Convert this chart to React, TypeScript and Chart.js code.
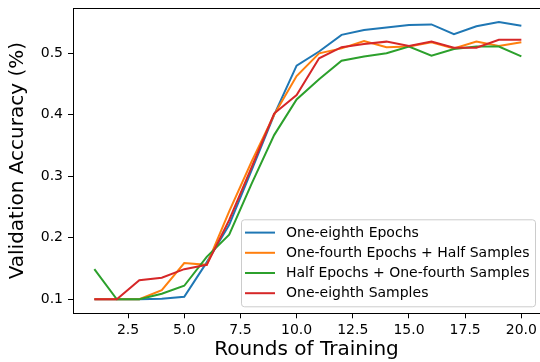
import React, { useEffect, useRef } from 'react';
import { Chart, registerables } from 'chart.js';

Chart.register(...registerables);

const rounds = [1, 2, 3, 4, 5, 6, 7, 8, 9, 10, 11, 12, 13, 14, 15, 16, 17, 18, 19, 20];
const oneEighthEpochs = [0.1, 0.1, 0.1, 0.101, 0.104, 0.16, 0.221, 0.31, 0.4, 0.48, 0.503, 0.53, 0.538, 0.542, 0.546, 0.547, 0.531, 0.544, 0.551, 0.545];
const oneFourthEpochsHalfSamples = [0.1, 0.1, 0.1, 0.115, 0.159, 0.156, 0.243, 0.324, 0.4, 0.463, 0.5, 0.508, 0.52, 0.51, 0.511, 0.518, 0.508, 0.519, 0.512, 0.518];
const halfEpochsOneFourthSamples = [0.149, 0.1, 0.1, 0.109, 0.122, 0.169, 0.205, 0.288, 0.367, 0.425, 0.458, 0.488, 0.495, 0.5, 0.511, 0.496, 0.507, 0.511, 0.511, 0.495];
const oneEighthSamples = [0.1, 0.1, 0.131, 0.135, 0.149, 0.156, 0.229, 0.315, 0.402, 0.432, 0.492, 0.51, 0.515, 0.519, 0.512, 0.519, 0.509, 0.509, 0.522, 0.522];

const seriesLabels = [
  'One-eighth Epochs',
  'One-fourth Epochs + Half Samples',
  'Half Epochs + One-fourth Samples',
  'One-eighth Samples',
];
const seriesColors = ['#1f77b4', '#ff7f0e', '#2ca02c', '#d62728'];
const xTicks = [2.5, 5.0, 7.5, 10.0, 12.5, 15.0, 17.5, 20.0];
const yTicks = [0.1, 0.2, 0.3, 0.4, 0.5];

const FONT = '"DejaVu Sans", sans-serif';

export default function App() {
  const ref = useRef<HTMLCanvasElement>(null);

  useEffect(() => {
    const canvas = ref.current;
    if (!canvas) return;
    const allSeries = [oneEighthEpochs, oneFourthEpochsHalfSamples, halfEpochsOneFourthSamples, oneEighthSamples];

    const framePlugin = {
      id: 'mplFrame',
      afterDraw(chart: any) {
        const c = chart.ctx;
        const a = chart.chartArea;
        c.save();
        c.strokeStyle = '#000';
        c.lineWidth = 1;
        c.beginPath();
        c.moveTo(a.left, a.top + 0.5);
        c.lineTo(a.right, a.top + 0.5);
        c.stroke();

        // legend box (lower right, inside axes)
        const w = 294;
        const h = 87;
        const x0 = a.right - 4.5 - w;
        const y0 = a.bottom - 6.5 - h;
        c.beginPath();
        (c as any).roundRect(x0, y0, w, h, 3);
        c.fillStyle = 'rgba(255,255,255,0.8)';
        c.fill();
        c.strokeStyle = '#cccccc';
        c.lineWidth = 1;
        c.stroke();
        chart.data.datasets.forEach((ds: any, i: number) => {
          const y = y0 + 12.8 + i * 20.2;
          c.beginPath();
          c.moveTo(x0 + 3.5, y);
          c.lineTo(x0 + 33.5, y);
          c.strokeStyle = ds.borderColor;
          c.lineWidth = 2;
          c.stroke();
          c.fillStyle = '#000';
          c.font = '14px ' + FONT;
          c.textBaseline = 'middle';
          c.textAlign = 'left';
          c.fillText(ds.label, x0 + 44.5, y + 0.5);
        });
        c.restore();
      },
    };

    const chart = new Chart(canvas, {
      type: 'line',
      data: {
        datasets: allSeries.map((vals, i) => ({
          label: seriesLabels[i],
          data: rounds.map((r, j) => ({ x: r, y: vals[j] })),
          borderColor: seriesColors[i],
          backgroundColor: seriesColors[i],
          borderWidth: 2,
          pointRadius: 0,
          tension: 0,
          fill: false,
          order: 4 - i,
        })),
      },
      options: {
        responsive: false,
        animation: false,
        devicePixelRatio: 1,
        layout: { padding: { top: 8, right: 0, left: 0, bottom: 0 } },
        plugins: { legend: { display: false }, tooltip: { enabled: false } },
        scales: {
          x: {
            type: 'linear',
            min: 0.05,
            max: 20.83,
            afterBuildTicks: (s: any) => {
              s.ticks = xTicks.map((v) => ({ value: v }));
            },
            afterFit: (s: any) => {
              s.height = 48.7;
              s.paddingLeft = 0;
              s.paddingRight = 0;
            },
            ticks: {
              callback: (v: any) => Number(v).toFixed(1),
              font: { size: 14, family: FONT },
              color: '#000',
              padding: 4,
              maxRotation: 0,
              autoSkip: false,
            },
            grid: { drawOnChartArea: false, drawTicks: true, tickLength: 5, color: '#000', tickColor: '#000' },
            border: { display: true, color: '#000', width: 1 },
            title: {
              display: true,
              text: 'Rounds of Training',
              font: { size: 20, family: FONT },
              color: '#000',
              padding: { top: 0, bottom: 0 },
            },
          },
          y: {
            type: 'linear',
            min: 0.0772,
            max: 0.5737,
            afterBuildTicks: (s: any) => {
              s.ticks = yTicks.map((v) => ({ value: v }));
            },
            afterFit: (s: any) => {
              s.width = 73;
              s.paddingTop = 0;
              s.paddingBottom = 0;
            },
            ticks: {
              callback: (v: any) => Number(v).toFixed(1),
              font: { size: 14, family: FONT },
              color: '#000',
              padding: 5,
              autoSkip: false,
            },
            grid: { drawOnChartArea: false, drawTicks: true, tickLength: 5, color: '#000', tickColor: '#000' },
            border: { display: true, color: '#000', width: 1 },
            title: {
              display: true,
              text: 'Validation Accuracy (%)',
              font: { size: 20, family: FONT },
              color: '#000',
              padding: { top: 6, bottom: 0 },
            },
          },
        },
      },
      plugins: [framePlugin],
    } as any);

    return () => chart.destroy();
  }, []);

  return (
    <div style={{ position: 'fixed', left: 0, top: 0, width: 540, height: 362, background: '#fff' }}>
      <canvas ref={ref} width={540} height={362} style={{ display: 'block' }} />
    </div>
  );
}
